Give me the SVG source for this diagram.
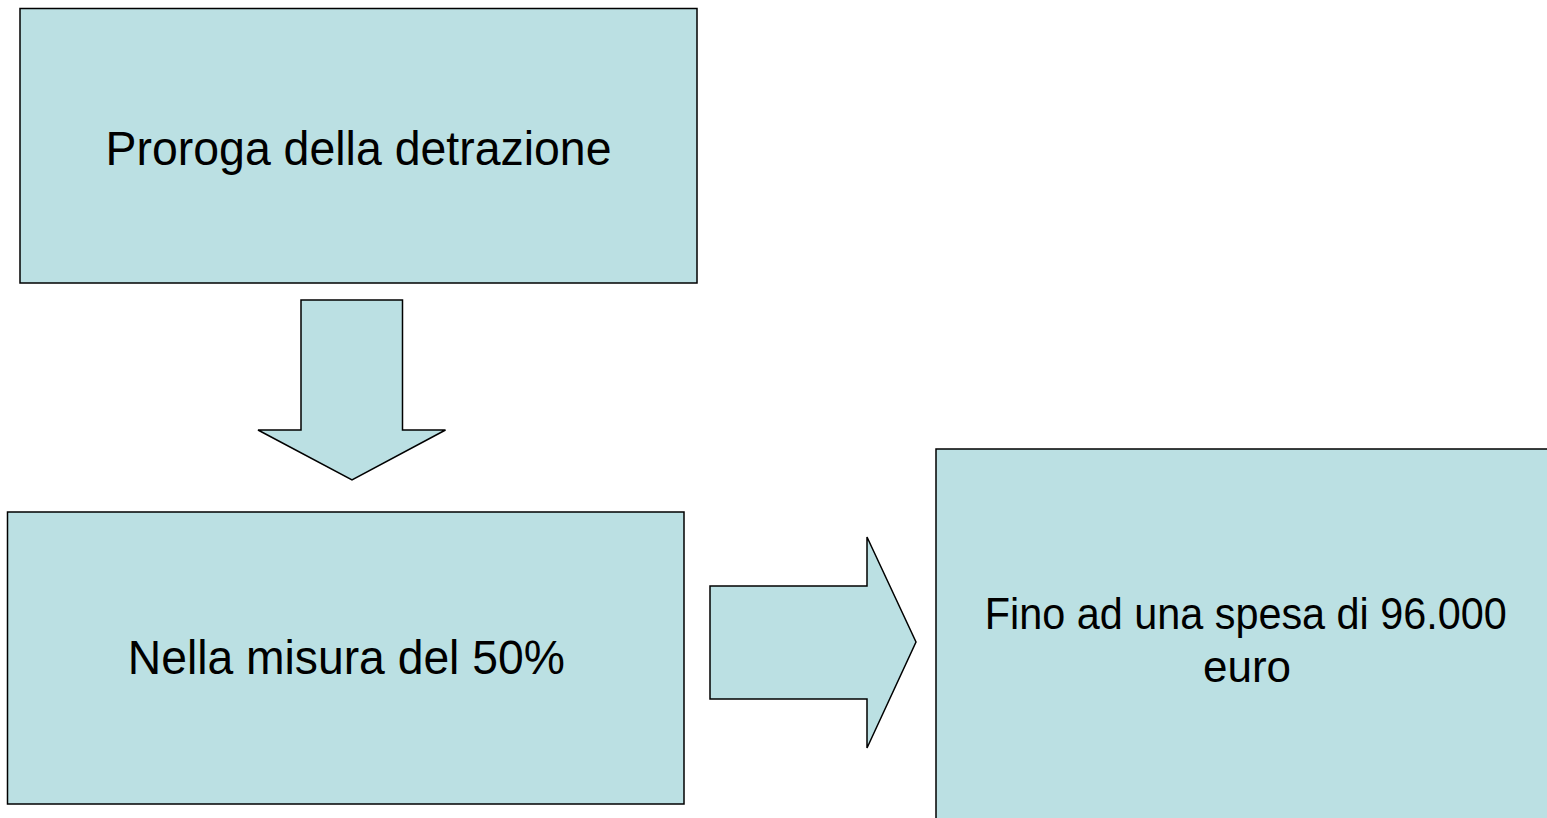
<svg xmlns="http://www.w3.org/2000/svg" width="1547" height="818" viewBox="0 0 1547 818">
<style>
.box{fill:#BBE0E3;stroke:#000;stroke-width:1.5}
.arr{fill:#BBE0E3;stroke:#000;stroke-width:1.5;stroke-linejoin:miter}
.t{font-family:"Liberation Sans",Arial,Helvetica,sans-serif;fill:#000;text-anchor:middle}
</style>
<rect width="1547" height="818" fill="#fff"/>
<g id="node-proroga">
<rect class="box" x="20" y="8.5" width="677" height="274.5"/>
<text class="t" x="358.5" y="164.5" font-size="49" textLength="506" lengthAdjust="spacingAndGlyphs">Proroga della detrazione</text>
</g>
<g id="node-misura">
<rect class="box" x="7.5" y="512" width="676.5" height="292"/>
<text class="t" x="346.3" y="674" font-size="48" textLength="437" lengthAdjust="spacingAndGlyphs">Nella misura del 50%</text>
</g>
<g id="node-spesa">
<rect class="box" x="936" y="449" width="640" height="400"/>
<text class="t" x="1245.8" y="628.5" font-size="44" textLength="522" lengthAdjust="spacingAndGlyphs">Fino ad una spesa di 96.000</text>
<text class="t" x="1247" y="681.5" font-size="44">euro</text>
</g>
<g id="connectors">
<polygon class="arr" points="301,300 402.5,300 402.5,430 445.5,430 352,480 258,430 301,430"/>
<polygon class="arr" points="710,586 867,586 867,537 916,642 867,748 867,699 710,699"/>
</g>
</svg>
